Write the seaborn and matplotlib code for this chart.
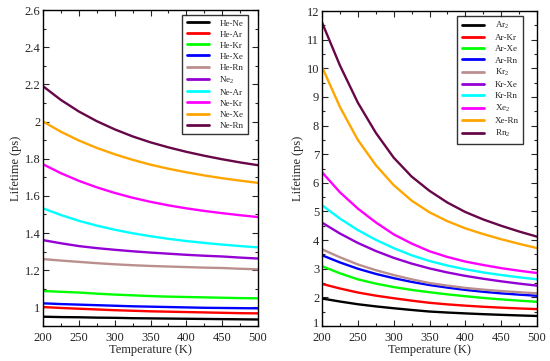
import numpy as np
import pandas as pd
import matplotlib
matplotlib.use("Agg")
import matplotlib.pyplot as plt
import matplotlib.transforms as mtransforms
from matplotlib.ticker import MultipleLocator, FormatStrFormatter
import seaborn as sns

temps = [200, 225, 250, 275, 300, 325, 350, 375, 400, 425, 450, 475, 500]

left_names = ["He-Ne", "He-Ar", "He-Kr", "He-Xe", "He-Rn", "Ne$_\\mathregular{2}$",
              "Ne-Ar", "Ne-Kr", "Ne-Xe", "Ne-Rn"]
he_ne = [0.950, 0.948, 0.947, 0.945, 0.944, 0.942, 0.941, 0.940, 0.939, 0.938, 0.937, 0.936, 0.935]
he_ar = [1.002, 0.997, 0.993, 0.989, 0.985, 0.982, 0.979, 0.977, 0.975, 0.973, 0.971, 0.969, 0.968]
he_kr = [1.088, 1.084, 1.080, 1.074, 1.069, 1.065, 1.061, 1.058, 1.056, 1.054, 1.052, 1.050, 1.049]
he_xe = [1.022, 1.018, 1.015, 1.012, 1.009, 1.006, 1.004, 1.002, 1.000, 0.998, 0.997, 0.996, 0.995]
he_rn = [1.260, 1.252, 1.245, 1.238, 1.232, 1.227, 1.223, 1.220, 1.217, 1.214, 1.212, 1.208, 1.205]
ne2 = [1.362, 1.345, 1.330, 1.319, 1.310, 1.302, 1.295, 1.289, 1.283, 1.278, 1.274, 1.268, 1.263]
ne_ar = [1.533, 1.497, 1.466, 1.440, 1.418, 1.399, 1.383, 1.369, 1.357, 1.347, 1.338, 1.330, 1.323]
ne_kr = [1.770, 1.722, 1.681, 1.646, 1.616, 1.590, 1.568, 1.549, 1.533, 1.519, 1.507, 1.496, 1.486]
ne_xe = [2.000, 1.945, 1.898, 1.858, 1.824, 1.794, 1.768, 1.746, 1.727, 1.710, 1.695, 1.682, 1.670]
ne_rn = [2.190, 2.116, 2.054, 2.002, 1.958, 1.920, 1.888, 1.861, 1.837, 1.816, 1.797, 1.780, 1.765]
left_vals = [he_ne, he_ar, he_kr, he_xe, he_rn, ne2, ne_ar, ne_kr, ne_xe, ne_rn]

right_names = ["Ar$_\\mathregular{2}$", "Ar-Kr", "Ar-Xe", "Ar-Rn", "Kr$_\\mathregular{2}$",
               "Kr-Xe", "Kr-Rn", "Xe$_\\mathregular{2}$", "Xe-Rn", "Rn$_\\mathregular{2}$"]
ar2 = [1.960, 1.855, 1.760, 1.685, 1.620, 1.560, 1.505, 1.470, 1.440, 1.413, 1.390, 1.369, 1.350]
ar_kr = [2.470, 2.310, 2.170, 2.060, 1.970, 1.885, 1.810, 1.755, 1.710, 1.672, 1.640, 1.613, 1.590]
ar_xe = [3.090, 2.840, 2.630, 2.480, 2.360, 2.260, 2.180, 2.105, 2.040, 1.980, 1.930, 1.885, 1.845]
ar_rn = [3.470, 3.220, 3.000, 2.820, 2.670, 2.540, 2.430, 2.340, 2.260, 2.195, 2.140, 2.095, 2.055]
kr2 = [3.680, 3.400, 3.150, 2.950, 2.780, 2.630, 2.500, 2.410, 2.330, 2.270, 2.220, 2.180, 2.140]
kr_xe = [4.610, 4.230, 3.900, 3.620, 3.380, 3.180, 3.010, 2.870, 2.750, 2.650, 2.560, 2.480, 2.410]
kr_rn = [5.220, 4.750, 4.350, 4.010, 3.720, 3.470, 3.270, 3.110, 2.980, 2.870, 2.780, 2.700, 2.630]
xe2 = [6.370, 5.670, 5.100, 4.620, 4.200, 3.880, 3.610, 3.410, 3.250, 3.130, 3.020, 2.930, 2.850]
xe_rn = [10.05, 8.650, 7.500, 6.620, 5.920, 5.380, 4.970, 4.660, 4.410, 4.210, 4.030, 3.870, 3.720]
rn2 = [11.60, 10.10, 8.800, 7.750, 6.880, 6.220, 5.720, 5.310, 4.980, 4.720, 4.500, 4.300, 4.120]
right_vals = [ar2, ar_kr, ar_xe, ar_rn, kr2, kr_xe, kr_rn, xe2, xe_rn, rn2]

colors = ["#000000", "#ff0000", "#00ff00", "#0000ff", "#bc8f8f",
          "#9400d3", "#00ffff", "#ff00ff", "#ffa500", "#670748"]

sns.set_style("ticks")
plt.rcParams["font.family"] = ["Liberation Serif", "DejaVu Serif"]
plt.rcParams["mathtext.fontset"] = "custom"
plt.rcParams["mathtext.rm"] = "Liberation Serif"
plt.rcParams["mathtext.it"] = "Liberation Serif:italic"


def make_df(names, vals):
    rows = []
    for n, v in zip(names, vals):
        for t, y in zip(temps, v):
            rows.append({"T": t, "life": y, "pair": n})
    return pd.DataFrame(rows)


fig = plt.figure(figsize=(5.5, 3.61), dpi=100)
ax1 = fig.add_axes([43 / 550, 35 / 361, 215 / 550, 316 / 361])
ax2 = fig.add_axes([322 / 550, 35 / 361, 215 / 550, 315 / 361])

FS = 9


def style(ax, ylim, ymaj, ymin, leg_x):
    ax.set_xlim(200, 500)
    ax.set_ylim(*ylim)
    ax.xaxis.set_major_locator(MultipleLocator(50))
    ax.xaxis.set_minor_locator(MultipleLocator(25))
    ax.yaxis.set_major_locator(MultipleLocator(ymaj))
    ax.yaxis.set_minor_locator(MultipleLocator(ymin))
    ax.yaxis.set_major_formatter(FormatStrFormatter("%g"))
    ax.tick_params(which="both", direction="in", top=True, right=True,
                   labelsize=FS, width=0.8)
    ax.tick_params(axis="x", pad=4)
    ax.tick_params(axis="y", pad=2)
    ax.tick_params(which="major", length=4)
    ax.tick_params(which="minor", length=2)
    for s in ax.spines.values():
        s.set_linewidth(1.0)
        s.set_color("black")
    ax.set_xlabel("Temperature (K)", fontsize=FS, labelpad=0)
    ax.set_ylabel("Lifetime (ps)", fontsize=FS, labelpad=2)
    handles, labels = ax.get_legend_handles_labels()
    leg = ax.legend(handles, labels, loc="upper right", fontsize=6.5,
                    frameon=True, fancybox=False, edgecolor="black",
                    handlelength=2.4, handletextpad=1.2, labelspacing=0.3,
                    borderpad=0.5, borderaxespad=0.0,
                    bbox_to_anchor=(leg_x, 0.985))
    leg.get_frame().set_linewidth(1.0)
    for line in leg.get_lines():
        line.set_linewidth(2.0)


dfl = make_df(left_names, left_vals)
sns.lineplot(data=dfl, x="T", y="life", hue="pair", hue_order=left_names,
             palette=colors, linewidth=1.7, ax=ax1)
style(ax1, (0.9, 2.6), 0.2, 0.1, 0.953)

dfr = make_df(right_names, right_vals)
sns.lineplot(data=dfr, x="T", y="life", hue="pair", hue_order=right_names,
             palette=colors, linewidth=1.7, ax=ax2)
style(ax2, (1, 12), 1, 0.5, 0.935)

# nudge the bottom "1" label of the right panel up slightly so it clears "200"
fig.canvas.draw()
shift = mtransforms.ScaledTranslation(0, 2.5 / 72, fig.dpi_scale_trans)
for tk in ax2.yaxis.get_major_ticks():
    if abs(tk.get_loc() - 1) < 1e-9:
        tk.label1.set_transform(tk.label1.get_transform() + shift)

fig.savefig("out.png", dpi=100)
